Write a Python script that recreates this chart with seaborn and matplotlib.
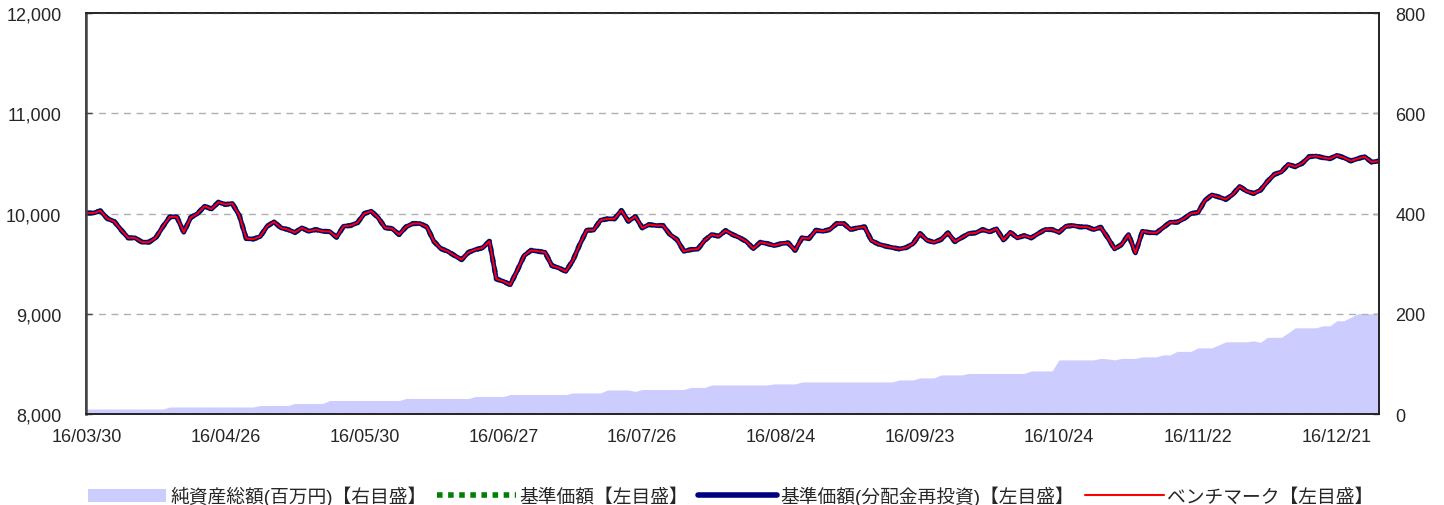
import pandas as pd
import matplotlib
matplotlib.use("Agg")
import matplotlib.pyplot as plt
import seaborn as sns
from matplotlib.lines import Line2D
from matplotlib.patches import Patch

# values (one point per business day)
nav = [
    10005, 10005, 10027, 9950, 9920, 9835, 9757, 9757, 9714, 9714,
    9760, 9870, 9967, 9967, 9813, 9960, 10000, 10073, 10045, 10113,
    10090, 10100, 9980, 9750, 9745, 9770, 9873, 9917, 9857, 9840,
    9810, 9857, 9823, 9840, 9823, 9820, 9763, 9873, 9880, 9907,
    10000, 10023, 9957, 9857, 9850, 9790, 9867, 9900, 9900, 9867,
    9723, 9650, 9623, 9580, 9540, 9613, 9640, 9657, 9723, 9347,
    9323, 9290, 9430, 9580, 9633, 9623, 9613, 9480, 9457, 9423,
    9530, 9690, 9833, 9835, 9933, 9947, 9947, 10030, 9923, 9970,
    9857, 9890, 9880, 9880, 9790, 9740, 9623, 9640, 9645, 9733,
    9790, 9773, 9830, 9790, 9760, 9720, 9650, 9713, 9700, 9680,
    9700, 9707, 9633, 9757, 9750, 9833, 9823, 9840, 9900, 9900,
    9840, 9857, 9867, 9730, 9695, 9675, 9660, 9647, 9660, 9700,
    9800, 9733, 9713, 9740, 9807, 9720, 9760, 9800, 9807, 9840,
    9817, 9847, 9735, 9813, 9757, 9780, 9757, 9800, 9840, 9840,
    9813, 9873, 9880, 9867, 9867, 9840, 9863, 9760, 9647, 9690,
    9790, 9607, 9823, 9810, 9807, 9860, 9913, 9913, 9950, 10000,
    10010, 10130, 10185, 10165, 10140, 10190, 10270, 10223, 10200, 10233,
    10320, 10390, 10415, 10490, 10467, 10500, 10567, 10573, 10557, 10547,
    10580, 10557, 10525, 10547, 10567, 10513, 10523,
]
nav_reinvest = list(nav)   # no distributions paid, same as nav
benchmark = list(nav)

net_assets = [
    10, 10, 10, 10, 10, 10, 10, 10, 10, 10,
    10, 10, 14, 14, 14, 14, 14, 14, 14, 14,
    14, 14, 14, 14, 14, 17, 17, 17, 17, 17,
    21, 21, 21, 21, 21, 27, 27, 27, 27, 27,
    27, 27, 27, 27, 27, 27, 31, 31, 31, 31,
    31, 31, 31, 31, 31, 31, 35, 35, 35, 35,
    35, 39, 39, 39, 39, 39, 39, 39, 39, 39,
    42, 42, 42, 42, 42, 48, 48, 48, 48, 45,
    49, 49, 49, 49, 49, 49, 49, 53, 53, 53,
    58, 58, 58, 58, 58, 58, 58, 58, 58, 60,
    60, 60, 60, 64, 64, 64, 64, 64, 64, 64,
    64, 64, 64, 64, 64, 64, 64, 68, 68, 68,
    72, 72, 72, 78, 78, 78, 78, 81, 81, 81,
    81, 81, 81, 81, 81, 81, 86, 86, 86, 86,
    108, 108, 108, 108, 108, 108, 111, 110, 108, 111,
    111, 111, 114, 114, 114, 118, 118, 125, 125, 125,
    132, 132, 132, 138, 144, 144, 144, 144, 146, 143,
    153, 153, 153, 162, 172, 172, 172, 172, 176, 176,
    186, 186, 193, 200, 200, 200, 200,
]

tick_labels = ["16/03/30", "16/04/26", "16/05/30", "16/06/27", "16/07/26",
               "16/08/24", "16/09/23", "16/10/24", "16/11/22", "16/12/21"]

legend_labels = ["純資産総額(百万円)【右目盛】", "基準価額【左目盛】",
                 "基準価額(分配金再投資)【左目盛】", "ベンチマーク【左目盛】"]

df = pd.DataFrame({"day": range(len(nav)), "nav": nav,
                   "nav_reinvest": nav_reinvest, "benchmark": benchmark,
                   "assets": net_assets})

sns.set_style("white")
plt.rcParams["font.family"] = ["Liberation Sans", "Noto Sans CJK JP"]

fig = plt.figure(figsize=(14.44, 5.06), dpi=100)
ax = fig.add_axes([0.0599, 0.1798, 0.8948, 0.7925])
ax2 = ax.twinx()

# net assets area on the right axis, behind the lines
ax2.fill_between(df["day"], df["assets"], color="#ccccff", lw=0)
ax2.set_ylim(0, 800)
ax2.set_yticks(range(0, 801, 200))
ax.set_zorder(ax2.get_zorder() + 1)
ax.patch.set_visible(False)

sns.lineplot(data=df, x="day", y="nav", ax=ax, color="#008000", lw=3.8,
             linestyle=(0, (1, 1)))
sns.lineplot(data=df, x="day", y="nav_reinvest", ax=ax, color="#000080", lw=3.4)
sns.lineplot(data=df, x="day", y="benchmark", ax=ax, color="#ff0000", lw=1.4)

ax.set_xlim(0, len(nav) - 1)
ax.set_ylim(8000, 12000)
ax.set_yticks(range(8000, 12001, 1000))
ax.set_yticklabels([f"{v:,}" for v in range(8000, 12001, 1000)])
ax.set_xticks(range(0, len(nav), 20))
ax.set_xticklabels(tick_labels)
ax.set_xlabel("")
ax.set_ylabel("")
ax2.set_ylabel("")

ax.yaxis.grid(True, linestyle=(0, (5, 4)), color="#b0b0b0", lw=1)
ax.xaxis.grid(False)
ax2.grid(False)

for a in (ax, ax2):
    for s in a.spines.values():
        s.set_color("#222222")
        s.set_linewidth(1.2)
ax.spines["left"].set_color("#444444")
ax.spines["left"].set_linewidth(1.8)
ax.tick_params(axis="x", direction="in", length=4, width=1, color="#444444",
               labelsize=13, pad=10)
ax.tick_params(axis="y", direction="in", length=4, width=1, color="#444444",
               labelsize=13, pad=18)
ax2.tick_params(axis="y", direction="in", length=4, width=1, color="#444444",
                labelsize=13, pad=12)

handles = [
    Patch(facecolor="#ccccff", edgecolor="none"),
    Line2D([], [], color="#008000", lw=4, linestyle=(0, (1, 1))),
    Line2D([], [], color="#000080", lw=4),
    Line2D([], [], color="#ff0000", lw=1.5),
]
fig.legend(handles, legend_labels, loc="lower center", bbox_to_anchor=(0.506, -0.035),
           ncol=4, frameon=False, fontsize=13.5, handlelength=4.2,
           handletextpad=0.2, columnspacing=0.55)

fig.savefig("out.png", dpi=100)
